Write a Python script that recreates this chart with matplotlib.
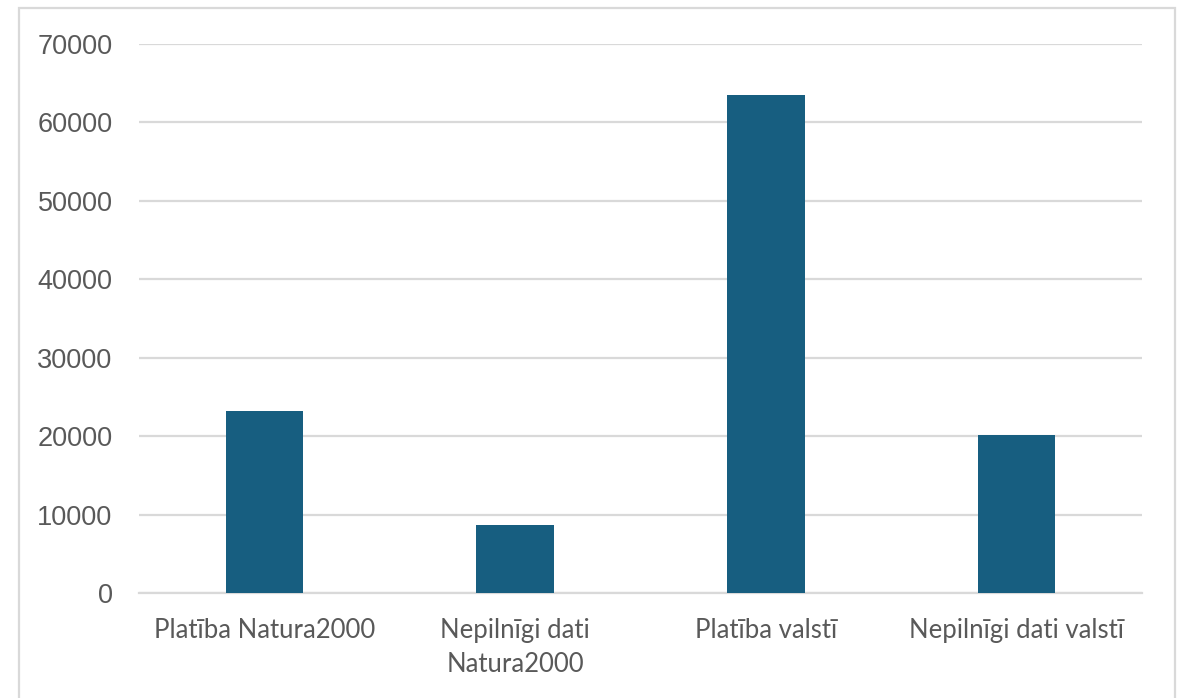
import matplotlib
matplotlib.use("Agg")
import matplotlib.pyplot as plt
from matplotlib.patches import Rectangle

categories = ["Platība Natura2000", "Nepilnīgi dati\nNatura2000", "Platība valstī", "Nepilnīgi dati valstī"]
values = [23200, 8700, 63500, 20200]
y_ticks = [0, 10000, 20000, 30000, 40000, 50000, 60000, 70000]

bar_color = "#175e80"
grid_color = "#d9d9d9"
text_color = "#595959"

fig = plt.figure(figsize=(11.85, 6.98), dpi=100)
fig.patch.set_facecolor("white")

# Light chart-area frame (bottom edge runs past the canvas)
W, H = 1185, 698
frame = Rectangle((18.7 / W, -0.02), (1175 - 18.7) / W, (H - 8.3) / H + 0.02,
                  transform=fig.transFigure, fill=False, edgecolor=grid_color,
                  linewidth=1.6, zorder=0)
fig.patches.append(frame)

left, right = 139 / W, 1142 / W
bottom, top = (H - 593.3) / H, (H - 43.5) / H
ax = fig.add_axes([left, bottom, right - left, top - bottom])

x = range(len(categories))
ax.bar(x, values, width=0.31, color=bar_color, zorder=3)

ax.set_xlim(-0.5, len(categories) - 0.5)
ax.set_ylim(0, 70000)
ax.set_yticks(y_ticks)
ax.set_yticklabels([str(v) for v in y_ticks], family="Liberation Sans",
                   fontsize=19.5, color=text_color)
ax.set_xticks(list(x))
ax.set_xticklabels(categories, family="Lato", fontsize=18.5, color=text_color,
                   linespacing=1.42, va="top")

ax.yaxis.grid(True, color=grid_color, linewidth=1.6, zorder=0)
ax.set_axisbelow(True)
ax.tick_params(axis="both", length=0)
ax.tick_params(axis="y", pad=19)
ax.tick_params(axis="x", pad=18)
for side in ["top", "right", "left"]:
    ax.spines[side].set_visible(False)
ax.spines["bottom"].set_color(grid_color)
ax.spines["bottom"].set_linewidth(1.6)

fig.savefig("out.png", dpi=100)
